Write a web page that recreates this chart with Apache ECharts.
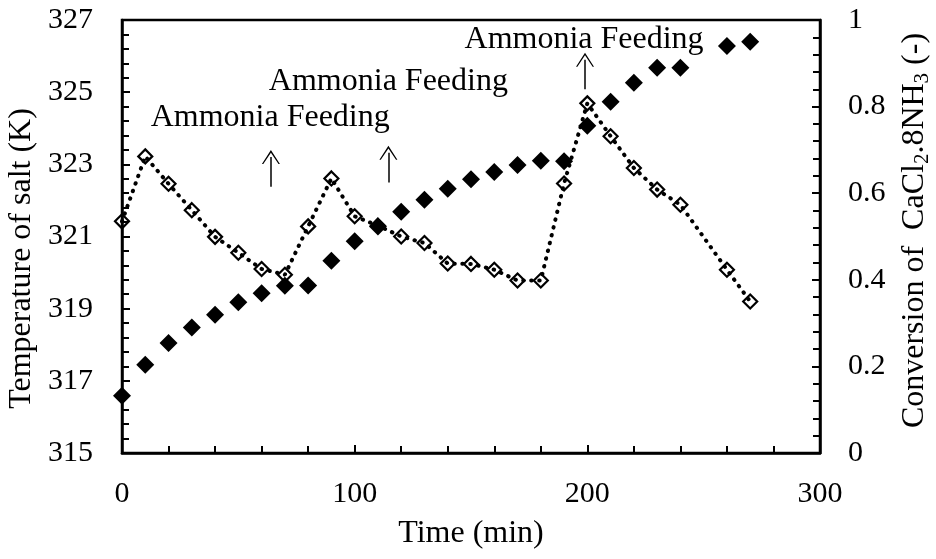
<!DOCTYPE html>
<html>
<head>
<meta charset="utf-8">
<script src="https://cdn.jsdelivr.net/npm/echarts@6/dist/echarts.min.js"></script>
<style>
  html, body { margin: 0; padding: 0; background: #fff; }
  #chart { width: 936px; height: 559px; }
</style>
</head>
<body>
<div id="chart"></div>
<script>
// time (min) of each measurement
const timeMin = [0, 10, 20, 30, 40, 50, 60, 70, 80, 90, 100, 110, 120, 130, 140, 150, 160, 170, 180, 190, 200, 210, 220, 230, 240, 260, 270];
// temperature of salt (K), open diamonds, left axis
const tempSalt = [321.42, 323.22, 322.46, 321.73, 320.99, 320.55, 320.10, 319.94, 321.28, 322.61, 321.56, 321.30, 321.00, 320.82, 320.25, 320.24, 320.08, 319.78, 319.78, 322.47, 324.69, 323.78, 322.90, 322.30, 321.88, 320.08, 319.20];
// conversion of CaCl2.8NH3 (-), filled diamonds, right axis
const conversion = [0.132, 0.204, 0.254, 0.290, 0.319, 0.348, 0.369, 0.386, 0.387, 0.444, 0.489, 0.523, 0.557, 0.585, 0.610, 0.632, 0.649, 0.665, 0.675, 0.674, 0.756, 0.811, 0.855, 0.890, 0.890, 0.940, 0.950];

// "Ammonia Feeding" notes: arrow at time, from low to high temperature; label centre
const feedTime = [64, 114.5, 199];
const arrowLow = [322.38, 322.5, 325.08];
const arrowHigh = [323.2, 323.32, 325.9];
const noteTime = [63.7, 114.5, 198.6];
const noteTemp = [324.3, 325.3, 326.46];

const font = 'Liberation Serif';

let chartDom = document.getElementById('chart');
let myChart = echarts.init(chartDom);

const pair = (xs, ys) => xs.map((x, i) => [x, ys[i]]);

const tickCommon = {
  axisLine: { show: true, lineStyle: { color: '#000', width: 2.5 } },
  axisTick: { show: true, inside: true, length: 8, lineStyle: { color: '#000', width: 2 } },
  minorTick: { show: true, splitNumber: 5, length: 7, lineStyle: { color: '#000', width: 2 } },
  splitLine: { show: false },
};

let option = {
  animation: false,
  grid: {
    left: 122, right: 116, top: 20, bottom: 106,
    outerBoundsMode: 'none',
    containLabel: false,
    show: true, borderColor: '#000', borderWidth: 2.5
  },
  xAxis: {
    type: 'value',
    min: 0, max: 300, interval: 100,
    ...tickCommon,
    axisLabel: { color: '#000', fontFamily: font, fontSize: 30, margin: 26 },
    name: 'Time (min)',
    nameLocation: 'middle',
    nameGap: 65,
    nameTextStyle: { color: '#000', fontFamily: font, fontSize: 32 }
  },
  yAxis: [
    {
      type: 'value',
      min: 315, max: 327, interval: 2,
      ...tickCommon,
      axisLabel: { color: '#000', fontFamily: font, fontSize: 30, margin: 29 },
      name: 'Temperature of salt (K)',
      nameLocation: 'middle',
      nameGap: 82,
      nameTextStyle: { color: '#000', fontFamily: font, fontSize: 32, padding: [0, 44, 0, 0] }
    },
    {
      type: 'value',
      min: 0, max: 1, interval: 0.2,
      position: 'right',
      ...tickCommon,
      axisLabel: { color: '#000', fontFamily: font, fontSize: 30, margin: 28 },
      name: '{t|Conversion of  CaCl}{s|2}{t|.8NH}{s|3}{t| (-)}',
      nameLocation: 'middle',
      nameGap: 76,
      nameRotate: 90,
      nameTextStyle: {
        color: '#000', fontFamily: font, fontSize: 32,
        padding: [0, 0, 0, 12],
        rich: {
          t: { fontFamily: font, fontSize: 32, color: '#000' },
          s: { fontFamily: font, fontSize: 21, color: '#000', padding: [16, 0, 0, 0] }
        }
      }
    }
  ],
  series: [
    {
      name: 'Temperature',
      type: 'line',
      yAxisIndex: 0,
      data: pair(timeMin, tempSalt),
      symbol: 'diamond',
      symbolSize: 14,
      lineStyle: { color: '#000', width: 4, type: [0.5, 7.5], cap: 'round' },
      itemStyle: { color: 'rgba(255,255,255,0)', borderColor: '#000', borderWidth: 2.2 },
      z: 3,
      markLine: {
        silent: true,
        symbol: ['none', 'path://M0,14 L9,0 L18,14 L16.6,14 L9,2.6 L1.4,14 Z'],
        symbolSize: [18, 14],
        lineStyle: { color: '#000', width: 1.5, type: 'solid' },
        label: { show: false },
        data: feedTime.map((t, i) => [
          { coord: [t, arrowLow[i]] },
          { coord: [t, arrowHigh[i]] }
        ])
      },
      markPoint: {
        silent: true,
        symbol: 'circle',
        symbolSize: 0,
        label: {
          show: true, position: 'inside',
          color: '#000', fontFamily: font, fontSize: 32,
          formatter: 'Ammonia Feeding'
        },
        data: noteTime.map((t, i) => ({ coord: [t, noteTemp[i]] }))
      }
    },
    {
      name: 'Conversion',
      type: 'scatter',
      yAxisIndex: 1,
      data: pair(timeMin, conversion),
      symbol: 'diamond',
      symbolSize: 18,
      itemStyle: { color: '#000', opacity: 1 },
      z: 2
    }
  ]
};

option && myChart.setOption(option);
</script>
</body>
</html>
